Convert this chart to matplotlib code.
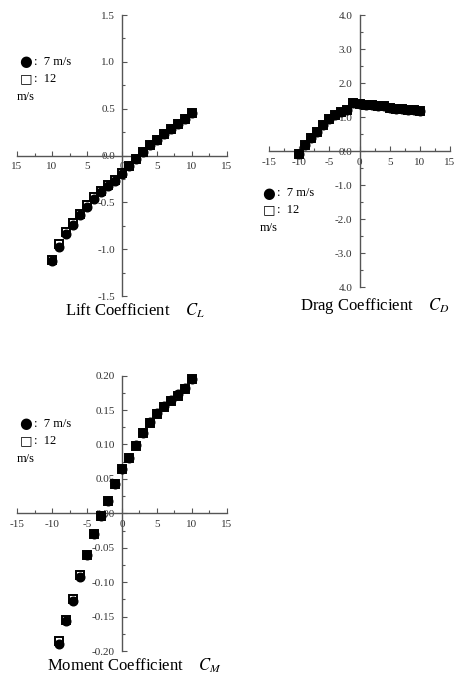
import matplotlib
matplotlib.use("Agg")
import matplotlib.pyplot as plt
import numpy as np
from matplotlib.ticker import MultipleLocator, FixedLocator, FixedFormatter

plt.rcParams['font.family'] = ['Liberation Serif', 'DejaVu Sans']
plt.rcParams['mathtext.fontset'] = 'stix'

# angle of attack (deg)
angle = [-10, -9, -8, -7, -6, -5, -4, -3, -2, -1, 0, 1, 2, 3, 4, 5, 6, 7, 8, 9, 10]

# lift coefficient
cl_7 = [-1.13, -0.975, -0.84, -0.745, -0.64, -0.55, -0.46, -0.39, -0.33, -0.27, -0.195,
        -0.11, -0.035, 0.04, 0.11, 0.17, 0.23, 0.28, 0.34, 0.39, 0.45]
cl_12 = [-1.12, -0.95, -0.82, -0.725, -0.62, -0.53, -0.44, -0.375, -0.32, -0.265, -0.19,
         -0.11, -0.035, 0.04, 0.11, 0.17, 0.23, 0.28, 0.34, 0.39, 0.45]

# drag coefficient
cd_7 = [-0.08, 0.18, 0.39, 0.57, 0.78, 0.93, 1.06, 1.14, 1.2, 1.4, 1.37,
        1.35, 1.34, 1.33, 1.31, 1.28, 1.25, 1.23, 1.21, 1.21, 1.19]
cd_12 = [-0.08, 0.18, 0.39, 0.57, 0.78, 0.93, 1.06, 1.14, 1.2, 1.4, 1.37,
         1.35, 1.34, 1.33, 1.31, 1.28, 1.25, 1.23, 1.21, 1.21, 1.19]

# moment coefficient
cm_angle = [-9, -8, -7, -6, -5, -4, -3, -2, -1, 0, 1, 2, 3, 4, 5, 6, 7, 8, 9, 10]
cm_7 = [-0.19, -0.157, -0.127, -0.092, -0.061, -0.030, -0.004, 0.0175, 0.043, 0.065,
        0.080, 0.099, 0.117, 0.132, 0.145, 0.156, 0.164, 0.173, 0.182, 0.195]
cm_12 = [-0.185, -0.155, -0.124, -0.09, -0.06, -0.030, -0.004, 0.0175, 0.043, 0.065,
         0.080, 0.098, 0.117, 0.131, 0.144, 0.155, 0.163, 0.171, 0.180, 0.195]

lift_xlabels = ["15", "10", "5", "0", "5", "10", "15"]
lift_ylabels = ["-1.5", "-1.0", "-0.5", "0.0", "0.5", "1.0", "1.5"]
drag_xlabels = ["-15", "-10", "-5", "0", "5", "10", "15"]
drag_ylabels = ["4.0", "-3.0", "-2.0", "-1.0", "0.0", "1.0", "2.0", "3.0", "4.0"]
mom_xlabels = ["-15", "-10", "-5", "0", "5", "10", "15"]
mom_ylabels = ["-0.20", "-0.15", "-0.10", "-0.05", "0.00", "0.05", "0.10", "0.15", "0.20"]

W, H = 456, 680
fig = plt.figure(figsize=(W / 100, H / 100), dpi=100)


def px(x, y):
    return x / W, 1 - y / H


def make_ax(rect, ylim, ystep, yminor, ylabels, xlabels):
    ax = fig.add_axes(rect)
    ax.set_xlim(-15, 15)
    ax.set_ylim(*ylim)
    for s in ['top', 'right']:
        ax.spines[s].set_visible(False)
    for s in ['left', 'bottom']:
        ax.spines[s].set_position('zero')
        ax.spines[s].set_color('#555555')
        ax.spines[s].set_linewidth(1.0)
    ax.xaxis.set_major_locator(FixedLocator([-15, -10, -5, 0, 5, 10, 15]))
    ax.xaxis.set_major_formatter(FixedFormatter(xlabels))
    ax.xaxis.set_minor_locator(MultipleLocator(2.5))
    yt = np.arange(ylim[0], ylim[1] + ystep / 2, ystep)
    ax.yaxis.set_major_locator(FixedLocator(yt))
    ax.yaxis.set_major_formatter(FixedFormatter(ylabels))
    ax.yaxis.set_minor_locator(MultipleLocator(yminor))
    ax.tick_params(which='both', direction='in', color='#555555', labelsize=8,
                   labelcolor='#333333', width=0.8)
    ax.tick_params(which='major', length=3.5, pad=5)
    ax.tick_params(which='minor', length=2.5)
    ax.patch.set_visible(False)
    return ax


def plot_pair(ax, x1, y1, x2, y2):
    ax.plot(x2, y2, ls='none', marker='s', ms=6.0, mfc='white', mec='black',
            mew=1.4, zorder=3, clip_on=False)
    ax.plot(x1, y1, ls='none', marker='o', ms=6.2, mfc='black', mec='black',
            zorder=4, clip_on=False)


def legend(x, y):
    f = ['Liberation Serif', 'DejaVu Sans']
    fig.text(*px(x, y), "\u25CF", fontsize=10.5, family=['DejaVu Sans'], va='center')
    fig.text(*px(x + 15, y), ":  7 m/s", fontsize=9, family=f, va='center')
    fig.text(*px(x + 1, y + 17), "\u25A1", fontsize=9.5, family=['DejaVu Sans'], va='center')
    fig.text(*px(x + 15, y + 17), ":  12", fontsize=9, family=f, va='center')
    fig.text(*px(x - 2, y + 35), "m/s", fontsize=9, family=f, va='center')


# lift
ax1 = make_ax([17 / W, 0.5647, 210 / W, 0.4132], (-1.5, 1.5), 0.5, 0.25,
              lift_ylabels, lift_xlabels)
plot_pair(ax1, angle, cl_7, angle, cl_12)
legend(19, 62)
fig.text(*px(135, 311), "Lift Coefficient    $C_L$", fontsize=12, ha='center', va='center')

# drag
ax2 = make_ax([269 / W, 0.5779, 181 / W, 0.4], (-4.0, 4.0), 1.0, 0.5,
              drag_ylabels, drag_xlabels)
plot_pair(ax2, angle, cd_7, angle, cd_12)
legend(262, 193)
fig.text(*px(375, 306), "Drag Coefficient    $C_D$", fontsize=12, ha='center', va='center')

# moment
ax3 = make_ax([17 / W, 0.0426, 210 / W, 0.405], (-0.20, 0.20), 0.05, 0.025,
              mom_ylabels, mom_xlabels)
plot_pair(ax3, cm_angle, cm_7, cm_angle, cm_12)
legend(19, 424)
fig.text(*px(135, 666), "Moment Coefficient    $C_M$", fontsize=12, ha='center', va='center')

fig.savefig("out.png", dpi=100)
